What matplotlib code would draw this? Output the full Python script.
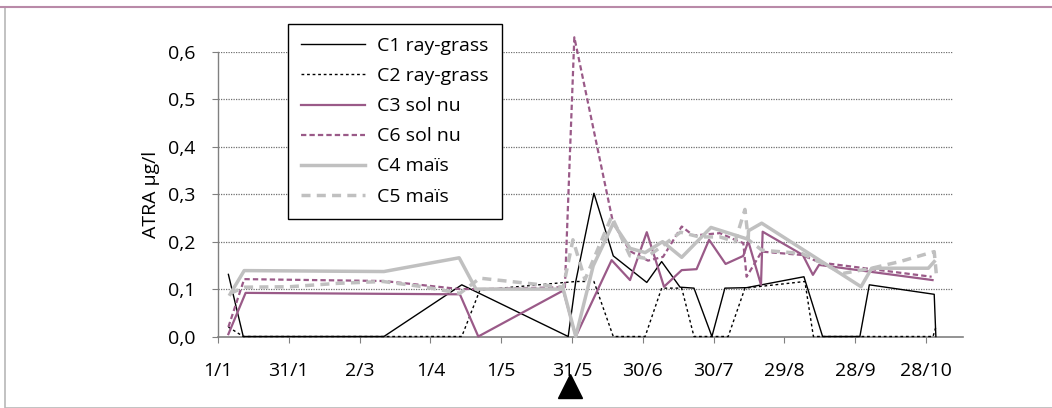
import matplotlib
matplotlib.use("Agg")
import matplotlib.pyplot as plt
from matplotlib.transforms import blended_transform_factory
from matplotlib.patches import Rectangle

plt.rcParams['font.family'] = ['Open Sans', 'DejaVu Sans']

# ---- data (day of year, ATRA µg/l) ----
tick_days = [0, 30, 60, 90, 120, 150, 180, 210, 240, 270, 300]
tick_labels = ["1/1", "31/1", "2/3", "1/4", "1/5", "31/5", "30/6", "30/7", "29/8", "28/9", "28/10"]
y_ticks = [0.0, 0.1, 0.2, 0.3, 0.4, 0.5, 0.6]
y_tick_labels = ["0,0", "0,1", "0,2", "0,3", "0,4", "0,5", "0,6"]

c1_x = [4.4, 10.7, 70.3, 103.3, 148.4, 151.6, 159.3, 167.5, 181.7, 188.0, 195.8, 201.7, 209.3, 214.8, 224.0, 248.3, 256.2, 272.0, 276.0, 303.5, 304.2]
c1_y = [0.131, 0, 0, 0.109, 0, 0.116, 0.302, 0.170, 0.114, 0.158, 0.104, 0.102, 0, 0.102, 0.103, 0.126, 0, 0, 0.109, 0.089, 0]

c2_x = [4.4, 10.7, 103.3, 111.0, 151.6, 159.3, 167.5, 181.0, 188.0, 196.5, 201.7, 216.2, 223.3, 248.7, 252.3, 303.0, 304.2]
c2_y = [0.02, 0, 0, 0.098, 0.116, 0.116, 0, 0, 0.102, 0.102, 0, 0, 0.102, 0.116, 0, 0, 0.02]

c3_x = [4.4, 11.7, 70.3, 102.5, 110.3, 146.3, 151.6, 166.8, 174.6, 181.7, 189.0, 196.5, 202.8, 208.1, 215.1, 222.6, 224.7, 230.1, 230.8, 247.8, 252.1, 254.7, 302.8]
c3_y = [0.005, 0.092, 0.090, 0.089, 0, 0.097, 0, 0.161, 0.119, 0.220, 0.105, 0.140, 0.142, 0.204, 0.153, 0.170, 0.201, 0.109, 0.221, 0.172, 0.130, 0.151, 0.119]

c6_x = [4.4, 11.1, 70.3, 102.5, 111.0, 147.0, 151.0, 167.4, 174.6, 182.2, 188.6, 196.5, 201.4, 212.7, 219.1, 222.6, 224.0, 230.4, 247.3, 255.1, 302.4]
c6_y = [0.02, 0.121, 0.117, 0.100, 0.100, 0.104, 0.631, 0.240, 0.180, 0.160, 0.168, 0.232, 0.213, 0.218, 0.204, 0.197, 0.126, 0.179, 0.172, 0.156, 0.126]

c4_x = [5.1, 11.1, 70.3, 102.2, 109.3, 146.3, 151.6, 159.0, 167.5, 174.6, 181.0, 188.4, 196.5, 208.9, 224.7, 224.8, 230.4, 272.5, 277.0, 301.0, 303.5]
c4_y = [0.089, 0.139, 0.137, 0.166, 0.100, 0.100, 0, 0.149, 0.239, 0.186, 0.177, 0.200, 0.167, 0.230, 0.205, 0.223, 0.239, 0.105, 0.144, 0.144, 0.158]

c5_x = [5.1, 11.4, 30.5, 50.3, 69.9, 86.9, 102.5, 111.0, 146.3, 150.4, 155.5, 166.8, 174.6, 181.0, 188.0, 196.0, 204.0, 212.7, 219.1, 223.3, 224.7, 230.5, 247.5, 257.9, 264.8, 277.0, 289.0, 303.5, 304.5]
c5_y = [0.091, 0.104, 0.105, 0.112, 0.116, 0.105, 0.091, 0.123, 0.104, 0.204, 0.120, 0.253, 0.170, 0.165, 0.190, 0.220, 0.210, 0.210, 0.200, 0.268, 0.204, 0.182, 0.175, 0.150, 0.133, 0.144, 0.158, 0.179, 0.126]

mauve = '#9a5a88'
grey = '#c0c0c0'
FS = 14

fig = plt.figure(figsize=(10.52, 4.08), dpi=100)
W, H = 1052, 408
ax = fig.add_axes([218 / W, 1 - 336.5 / H, 745 / W, 284.5 / H])
ax.set_xlim(0, 315.7)
ax.set_ylim(0, 0.6)

# outer frame
fig.patches.append(Rectangle((5 / W, 0), 1.2, 1 - 6.5 / H, transform=fig.transFigure,
                             fill=False, edgecolor='#b8b8b8', lw=1.2))
fig.add_artist(plt.Line2D([0, 1], [1 - 6.5 / H, 1 - 6.5 / H], transform=fig.transFigure,
                          color='#b98aa8', lw=1.5))

# gridlines
for yv in y_ticks[1:]:
    ax.axhline(yv, xmin=0, xmax=0.986, color='#707070', lw=0.9, ls=(0, (1, 1)), zorder=1)

lines = [
    (c1_x, c1_y, dict(color='black', lw=1.0, ls='-'), 'C1 ray-grass'),
    (c2_x, c2_y, dict(color='black', lw=1.0, ls=(0, (2, 2))), 'C2 ray-grass'),
    (c3_x, c3_y, dict(color=mauve, lw=1.6, ls='-'), 'C3 sol nu'),
    (c6_x, c6_y, dict(color=mauve, lw=1.6, ls=(0, (2.4, 1.4))), 'C6 sol nu'),
    (c4_x, c4_y, dict(color=grey, lw=2.5, ls='-'), 'C4 maïs'),
    (c5_x, c5_y, dict(color=grey, lw=2.5, ls=(0, (2.6, 1.8))), 'C5 maïs'),
]
handles = []
for xs, ys, st, lab in lines:
    h, = ax.plot(xs, ys, label=lab, clip_on=False, zorder=3, **st)
    handles.append(h)

for s in ['top', 'right']:
    ax.spines[s].set_visible(False)
ax.spines['left'].set_color('#808080')
ax.spines['bottom'].set_color('#808080')
ax.spines['left'].set_linewidth(1.0)
ax.spines['bottom'].set_linewidth(1.2)

ax.set_xticks(tick_days)
ax.set_xticklabels(tick_labels, fontsize=FS)
ax.set_yticks(y_ticks)
ax.set_yticklabels(y_tick_labels, fontsize=FS)
ax.tick_params(axis='x', direction='out', length=4.3, color='#808080', pad=14)
ax.tick_params(axis='y', direction='out', length=4.3, color='#808080', pad=12)
ax.set_ylabel('ATRA µg/l', fontsize=FS, labelpad=6)

leg = fig.legend(handles=handles, loc='upper left', bbox_to_anchor=(288 / W, 1 - 24 / H),
                 frameon=True, fancybox=False, edgecolor='black', framealpha=1,
                 fontsize=FS, handlelength=3.3, handletextpad=0.6, labelspacing=0.62,
                 borderpad=0.68, borderaxespad=0)
leg.get_frame().set_linewidth(1.0)

# application marker below axis
tr = blended_transform_factory(ax.transData, ax.transAxes)
ax.plot([149], [-0.1757], marker='^', markersize=17, color='black', transform=tr, clip_on=False)

fig.savefig('out.png', dpi=100)
